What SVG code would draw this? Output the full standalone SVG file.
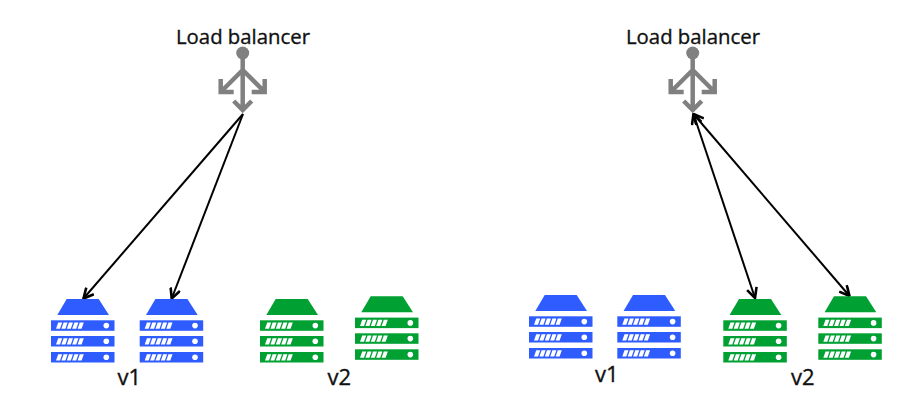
<svg xmlns="http://www.w3.org/2000/svg" xmlns:xlink="http://www.w3.org/1999/xlink" width="908" height="408" viewBox="0 0 908 408">
<style>
.t{font-family:"Open Sans","Noto Sans","Liberation Sans",sans-serif;fill:#111;stroke:#111;stroke-width:.35}
.lb{font-size:20px}
.v{font-size:22px}
.ic{fill:none;stroke:#808080;stroke-width:4.5}
.c{stroke:#000;stroke-width:2;fill:none}
.blue{fill:#2f5cff}
.green{fill:#00a033}
.w{fill:#fff}
</style>
<defs>
<marker id="ah" viewBox="0 0 12 12" refX="11" refY="6" markerWidth="12" markerHeight="12" markerUnits="userSpaceOnUse" orient="auto-start-reverse">
<path d="M1 1L11 6L1 11" fill="none" stroke="#000" stroke-width="2.6"/>
</marker>
<g id="row">
<rect x="0" y="0" width="63.5" height="10.5"/>
<path class="w" d="M7.2 2.2h4l-2.2 6.2h-4zM12.6 2.2h4l-2.2 6.2h-4zM18 2.2h4l-2.2 6.2h-4zM23.4 2.2h4l-2.2 6.2h-4zM28.8 2.2h4l-2.2 6.2h-4z"/>
<circle class="w" cx="55.3" cy="5.3" r="2.8"/>
</g>
<g id="server">
<path d="M15.7 0H47.7L58 16H6.3z"/>
<use xlink:href="#row" href="#row" y="21.3"/>
<use xlink:href="#row" href="#row" y="37"/>
<use xlink:href="#row" href="#row" y="53"/>
</g>
<g id="lb">
<circle cx="0" cy="0" r="6.5" fill="#808080"/>
<path class="ic" d="M0 6V57M-9 48L0 57L9 48M0 17L-22 39M-22 26V39H-9M0 17L22 39M22 26V39H9"/>
</g>
</defs>

<g id="connectors">
<path class="c" d="M243 114L83.5 298.5" marker-end="url(#ah)"/>
<path class="c" d="M243 114L171.7 298.5" marker-end="url(#ah)"/>
<path class="c" d="M693.5 114L755 298" marker-start="url(#ah)" marker-end="url(#ah)"/>
<path class="c" d="M693.5 114L849.5 296" marker-start="url(#ah)" marker-end="url(#ah)"/>
</g>

<g id="lb-left"><use xlink:href="#lb" href="#lb" x="242.7" y="53"/><text class="t lb" x="176" y="44" textLength="134" lengthAdjust="spacingAndGlyphs">Load balancer</text></g>
<g id="lb-right"><use xlink:href="#lb" href="#lb" x="692.7" y="53"/><text class="t lb" x="626" y="44" textLength="134" lengthAdjust="spacingAndGlyphs">Load balancer</text></g>

<g id="left-v1-a" class="blue"><use xlink:href="#server" href="#server" x="51" y="299"/></g>
<g id="left-v1-b" class="blue"><use xlink:href="#server" href="#server" x="139.7" y="299"/></g>
<g id="left-v2-a" class="green"><use xlink:href="#server" href="#server" x="260" y="299"/></g>
<g id="left-v2-b" class="green"><use xlink:href="#server" href="#server" x="355" y="296.3"/></g>
<g id="right-v1-a" class="blue"><use xlink:href="#server" href="#server" x="529" y="295"/></g>
<g id="right-v1-b" class="blue"><use xlink:href="#server" href="#server" x="617.3" y="295"/></g>
<g id="right-v2-a" class="green"><use xlink:href="#server" href="#server" x="723.3" y="299"/></g>
<g id="right-v2-b" class="green"><use xlink:href="#server" href="#server" x="818.3" y="296.3"/></g>

<g id="labels">
<text class="t v" x="117.5" y="385">v1</text>
<text class="t v" x="327.5" y="385">v2</text>
<text class="t v" x="595" y="382">v1</text>
<text class="t v" x="791" y="385">v2</text>
</g>
</svg>
